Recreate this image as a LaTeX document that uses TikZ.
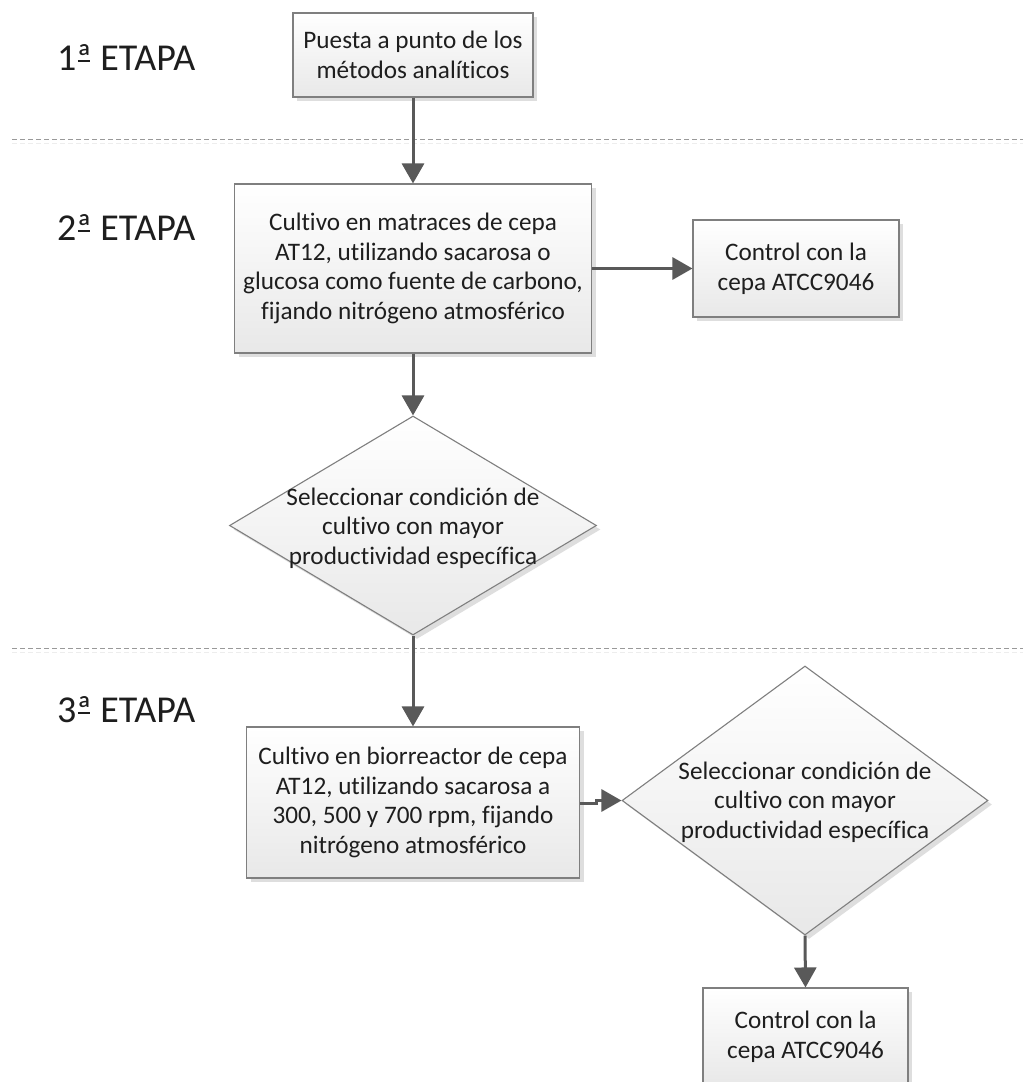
\documentclass[tikz,border=0pt]{standalone}
\usepackage{fontspec}
\setmainfont{Carlito}[Ligatures={NoCommon}]
\newcommand\ordu{\setbox0\hbox{ª}\rlap{ª}\raisebox{0.21em}{\hspace{0.1\wd0}\rule{0.8\wd0}{0.055em}}\hspace{0.1\wd0}}
\usetikzlibrary{shapes.geometric,shadows,arrows.meta}
\definecolor{txtc}{HTML}{1E1E1E}
\definecolor{arrc}{HTML}{595959}
\definecolor{brdc}{HTML}{7F7F7F}
\begin{document}
\begin{tikzpicture}[x=1pt,y=-1pt,
  box/.style={draw=brdc, line width=1.1pt, top color=white, bottom color=black!9,
    drop shadow={shadow xshift=4pt, shadow yshift=-4pt, fill=black!13, opacity=1},
    align=center, font=\fontsize{25.2}{29.7}\selectfont, text=txtc, inner sep=0pt},
  dia/.style={box, shape=diamond, inner sep=0pt},
  ditext/.style={align=center, font=\fontsize{25.2}{29.7}\selectfont, text=txtc, inner sep=0pt},
  stage/.style={anchor=base west, font=\fontsize{38}{44}\selectfont, text=txtc, inner sep=0pt},
  arr/.style={draw=arrc, line width=3pt, -{Triangle[length=20pt,width=22pt]}},
  sep/.style={draw=black!40, line width=1pt, dash pattern=on 5pt off 3pt},
  sepsh/.style={draw=black!7, line width=1pt, dash pattern=on 5pt off 3pt}
]
\useasboundingbox[fill=white] (0,0) rectangle (1023,1082);

% separators
\coordinate (s1a) at (12,139); \coordinate (s1b) at (1023,139);
\coordinate (s2a) at (12,648); \coordinate (s2b) at (1023,648);
\draw[sepsh] ([yshift=-4pt]s1a) -- ([yshift=-4pt]s1b);
\draw[sepsh] ([yshift=-4pt]s2a) -- ([yshift=-4pt]s2b);
\draw[sep] (s1a) -- (s1b);
\draw[sep] (s2a) -- (s2b);

% stage labels
\node[stage] (e1) at (57,70) {1\ordu{} ETAPA};
\node[stage] (e2) at (57,240) {2\ordu{} ETAPA};
\node[stage] (e3) at (57,722) {3\ordu{} ETAPA};

% boxes
\node[box, minimum width=240pt, minimum height=84pt] (b1) at (413,55)
  {Puesta a punto de los\\métodos analíticos};
\node[box, minimum width=357pt, minimum height=169pt] (b2) at (413,268.5)
  {Cultivo en matraces de cepa\\AT12, utilizando sacarosa o\\glucosa como fuente de carbono,\\fijando nitrógeno atmosférico};
\node[box, minimum width=206pt, minimum height=97pt] (b3) at (796,268.5)
  {Control con la\\cepa ATCC9046};
\node[dia, minimum width=367pt, minimum height=219pt] (d1) at (413,525.5) {};
\node[ditext] (d1t) at (413,528) {Seleccionar condición de\\cultivo con mayor\\productividad específica};
\node[box, minimum width=333pt, minimum height=151pt] (b4) at (413,802.5)
  {Cultivo en biorreactor de cepa\\AT12, utilizando sacarosa a\\300, 500 y 700 rpm, fijando\\nitrógeno atmosférico};
\node[dia, minimum width=366pt, minimum height=269pt] (d2) at (805,800.5) {};
\node[ditext] (d2t) at (805,802) {Seleccionar condición de\\cultivo con mayor\\productividad específica};
\node[box, minimum width=205pt, minimum height=97pt] (b5) at (805.5,1036.5)
  {Control con la\\cepa ATCC9046};

% connectors
\draw[arr] (b1.south) -- (b2.north);
\draw[arr] (b2.east) -- (b3.west);
\draw[arr] (b2.south) -- (d1.north);
\draw[arr] (d1.south) -- (b4.north);
\draw[arr] ([yshift=-1pt]b4.east) -- ++(16,0) |- (d2.west);
\draw[arr] (d2.south) -- (b5.north);
\end{tikzpicture}
\end{document}
